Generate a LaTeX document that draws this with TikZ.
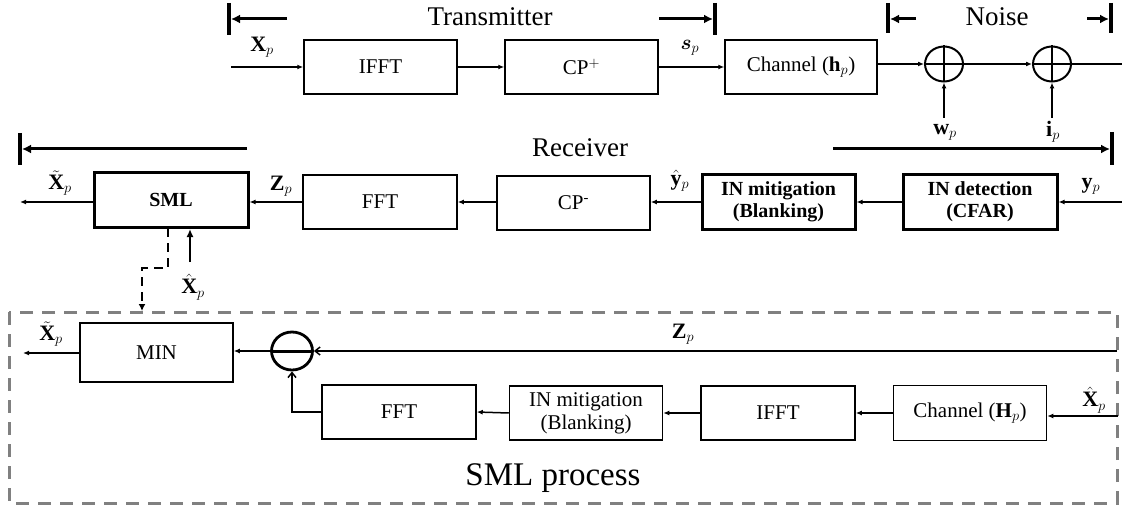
\documentclass[tikz,border=0pt]{standalone}
\usepackage{amsmath}
\usepackage{fontspec}
\setmainfont{Liberation Serif}
\usetikzlibrary{arrows.meta,shapes.geometric}
\begin{document}
\begin{tikzpicture}[x=1pt,y=-1pt,
  blk/.style={draw, line width=1.5pt, minimum width=153pt, minimum height=54pt, inner sep=0pt, font=\fontsize{21}{23}\selectfont, align=center},
  thk/.style={blk, line width=3pt, font=\fontsize{20}{22}\selectfont\bfseries},
  ln/.style={line width=1.5pt},
  arr/.style={ln, -{Latex[length=6pt,width=5pt]}},
  oarr/.style={ln, -{Straight Barb[length=5pt,width=8pt]}},
  brk/.style={line width=3pt, -{Latex[length=9pt,width=9pt]}},
  tick/.style={line width=3.5pt},
  big/.style={font=\fontsize{27}{30}\selectfont},
  lbl/.style={font=\fontsize{22}{24}\selectfont, inner sep=0pt},
  adder/.style={draw, ellipse, line width=2pt, minimum width=38pt, minimum height=35pt, inner sep=0pt}
]
\useasboundingbox (0,0) rectangle (1122,508);

% ---------- Transmitter row ----------
\node[big] (ttx) at (490,17) {Transmitter};
\coordinate (tl1) at (229,3); \coordinate (tl2) at (229,35);
\draw[tick] (tl1) -- (tl2);
\coordinate (ta1) at (287,19); \coordinate (ta2) at (231,19);
\draw[brk] (ta1) -- (ta2);
\coordinate (tr1) at (715,3); \coordinate (tr2) at (715,35);
\draw[tick] (tr1) -- (tr2);
\coordinate (tb1) at (659,19); \coordinate (tb2) at (713,19);
\draw[brk] (tb1) -- (tb2);

\node[big] (tnoise) at (997,17) {Noise};
\coordinate (nl1) at (888,3); \coordinate (nl2) at (888,33);
\draw[tick] (nl1) -- (nl2);
\coordinate (na1) at (916,19); \coordinate (na2) at (890,19);
\draw[brk] (na1) -- (na2);
\coordinate (nr1) at (1111,3); \coordinate (nr2) at (1111,33);
\draw[tick] (nr1) -- (nr2);
\coordinate (nb1) at (1087,19); \coordinate (nb2) at (1109,19);
\draw[brk] (nb1) -- (nb2);

\node[blk] (ifft) at (380.5,67) {IFFT};
\node[blk] (cpp) at (581.5,67) {CP$^{+}$};
\node[blk, minimum width=152pt] (chan) at (801,67) {Channel ($\mathbf{h}_p$)};
\node[adder] (add1) at (944,64) {};
\node[adder] (add2) at (1052,64) {};
\draw[line width=2.2pt] (add1.north) -- (add1.south) (add1.west) -- (add1.east);
\draw[line width=2.2pt] (add2.north) -- (add2.south) (add2.west) -- (add2.east);

\coordinate (xin) at (231,67);
\draw[arr] (xin) -- (ifft.west);
\node[lbl] (lxp) at (262,47) {$\mathbf{X}_p$};
\draw[arr] (ifft.east) -- (cpp.west);
\draw[arr] (cpp.east) -- (chan.west);
\node[lbl] (lsp) at (690,48) {$\boldsymbol{s}_p$};
\draw[arr] (chan.east |- add1.west) -- (add1.west);
\draw[arr] (add1.east) -- (add2.west);
\coordinate (aout) at (1122,64);
\draw[ln] (add2.east) -- (aout);
\coordinate (win) at (944,118);
\coordinate (iin) at (1052,118);
\draw[arr] (win) -- (add1.south);
\draw[arr] (iin) -- (add2.south);
\node[lbl] (lwp) at (945,132) {$\mathbf{w}_p$};
\node[lbl] (lip) at (1053,132) {$\mathbf{i}_p$};

% ---------- Receiver row ----------
\node[big] (trx) at (580,148) {Receiver};
\coordinate (rl1) at (20,133); \coordinate (rl2) at (20,165);
\draw[tick] (rl1) -- (rl2);
\coordinate (ra1) at (247,149); \coordinate (ra2) at (22,149);
\draw[brk] (ra1) -- (ra2);
\coordinate (rr1) at (1112,132); \coordinate (rr2) at (1112,165);
\draw[tick] (rr1) -- (rr2);
\coordinate (rb1) at (833,149); \coordinate (rb2) at (1110,149);
\draw[brk] (rb1) -- (rb2);

\node[thk, minimum width=154pt, minimum height=55pt] (sml) at (171,200) {SML};
\node[blk, minimum width=154pt] (fft) at (380,202) {FFT};
\node[blk] (cpm) at (573.5,203) {CP\textsuperscript{-}};
\node[thk, minimum height=55pt] (inm) at (778.5,202) {IN mitigation\\(Blanking)};
\node[thk, minimum width=154pt, minimum height=55pt] (ind) at (980,202) {IN detection\\(CFAR)};

\coordinate (yin) at (1122,202);
\draw[arr] (yin) -- (ind.east);
\node[lbl] (lyp) at (1091,186) {$\mathbf{y}_p$};
\draw[arr] (ind.west) -- (inm.west -| inm.east);
\draw[arr] (inm.west) -- (cpm.east |- inm.west);
\node[lbl] (lyh) at (680,181) {$\hat{\mathbf{y}}_p$};
\draw[arr] (cpm.west |- fft.east) -- (fft.east);
\draw[arr] (fft.west) -- (fft.west -| sml.east);
\node[lbl] (lzp) at (281,186) {$\mathbf{Z}_p$};
\coordinate (xout) at (20,202);
\draw[arr] (sml.west |- xout) -- (xout);
\node[lbl] (lxt) at (60,183) {$\tilde{\mathbf{X}}_p$};

% dashed link to SML process
\coordinate (d1) at (168,228);
\coordinate (d2) at (168,268);
\coordinate (d3) at (142,268);
\coordinate (d4) at (142,311);
\draw[line width=2.5pt, dash pattern=on 9pt off 6pt, -{Latex[length=7pt,width=7pt]}] (d1) -- (d2) -- (d3) -- (d4);
\coordinate (xh) at (190,262);
\draw[line width=2.8pt, -{Latex[length=8pt,width=7pt]}] (xh) -- (xh |- sml.south);
\node[lbl] (lxh) at (193,287) {$\hat{\mathbf{X}}_p$};

% ---------- SML process ----------
\draw[draw=gray, line width=3pt, dash pattern=on 13pt off 9pt] (9,312) rectangle (1117,503);
\node[font=\fontsize{33}{36}\selectfont] (tsml) at (553,478) {SML process};

\node[blk, minimum height=59pt] (min) at (156.5,352.5) {MIN};
\node[draw, ellipse, line width=2.8pt, minimum width=41pt, minimum height=38pt, inner sep=0pt] (sub) at (292,351) {};
\coordinate (subl) at (272,351);
\coordinate (subr) at (312,351);
\draw[line width=3pt] (subl) -- (subr);
\coordinate (zin) at (1117,351);
\draw[oarr] (zin) -- (sub.east);
\node[lbl] (lzp2) at (683,334) {$\mathbf{Z}_p$};
\draw[arr] (sub.west) -- (sub.west -| min.east);
\coordinate (mout) at (23,353);
\draw[arr] (min.west |- mout) -- (mout);
\node[lbl] (lxt2) at (51,334) {$\tilde{\mathbf{X}}_p$};

\node[blk, minimum width=154pt] (fft2) at (399,412) {FFT};
\node[blk] (inm2) at (586,413) {IN mitigation\\(Blanking)};
\node[blk, minimum width=154pt] (ifft2) at (778,413) {IFFT};
\node[blk, minimum height=55pt] (chan2) at (970,413) {Channel ($\mathbf{H}_p$)};

\coordinate (xin2) at (1118,416);
\draw[arr] (xin2) -- (chan2.east |- xin2);
\node[lbl] (lxh2) at (1094,400) {$\hat{\mathbf{X}}_p$};
\draw[arr] (chan2.west) -- (ifft2.east);
\draw[arr] (ifft2.west) -- (inm2.east);
\draw[arr] (inm2.west) -- (fft2.east);
\draw[oarr] (fft2.west) -| (sub.south);
\end{tikzpicture}
\end{document}
